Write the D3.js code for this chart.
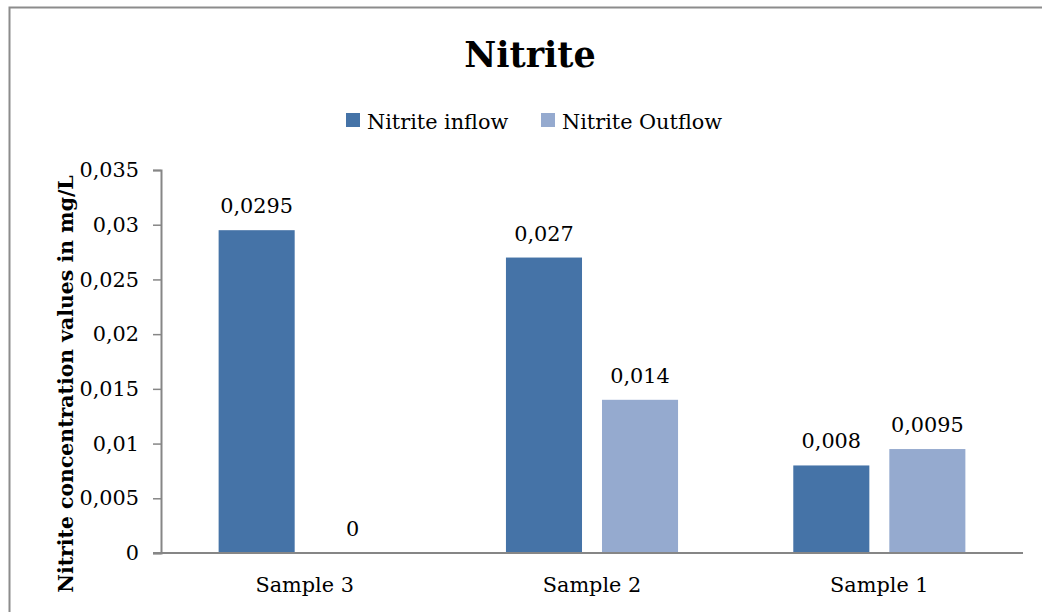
<!DOCTYPE html>
<html>
<head>
<meta charset="utf-8">
<script src="https://cdn.jsdelivr.net/npm/d3@7"></script>
<style>
  html, body { margin: 0; padding: 0; background: #fff; }
  svg { display: block; }
  text { font-family: "DejaVu Serif", "Liberation Serif", serif; fill: #000; }
</style>
</head>
<body>
<svg id="chart" width="1042" height="612"></svg>
<script>
// Chart data
const categories = ["Sample 3", "Sample 2", "Sample 1"];
const seriesNames = ["Nitrite inflow", "Nitrite Outflow"];
const inflow = [0.0295, 0.027, 0.008];
const outflow = [0, 0.014, 0.0095];
const inflowLabels = ["0,0295", "0,027", "0,008"];
const outflowLabels = ["0", "0,014", "0,0095"];
const yTicks = [0, 0.005, 0.01, 0.015, 0.02, 0.025, 0.03, 0.035];
const yTickLabels = ["0", "0,005", "0,01", "0,015", "0,02", "0,025", "0,03", "0,035"];
const colors = ["#4573A7", "#95AACF"];

const fontSize = "20.8px";
const svg = d3.select("#chart");

// Outer chart frame
svg.append("rect")
  .attr("x", 9.5).attr("y", 7.5)
  .attr("width", 1100).attr("height", 700)
  .attr("fill", "none").attr("stroke", "#8c8c8c").attr("stroke-width", 2);

const plot = { left: 161, right: 1023, top: 170, bottom: 553 };

const x0 = d3.scaleBand().domain(categories).range([plot.left, plot.right]).padding(0);
const x1 = d3.scaleBand().domain(seriesNames).range([0, x0.bandwidth()])
  .paddingInner(0.208).paddingOuter(0.6);
const y = d3.scaleLinear().domain([0, 0.035]).range([plot.bottom, plot.top]);

// Title
svg.append("text")
  .attr("x", 530).attr("y", 67)
  .attr("text-anchor", "middle")
  .style("font-size", "35px").style("font-weight", "bold")
  .text("Nitrite");

// Legend
const legend = svg.append("g");
const legendItems = [
  { name: seriesNames[0], color: colors[0], x: 346 },
  { name: seriesNames[1], color: colors[1], x: 541 }
];
legendItems.forEach(d => {
  legend.append("rect").attr("x", d.x).attr("y", 113).attr("width", 14).attr("height", 14).attr("fill", d.color);
  legend.append("text").attr("x", d.x + 21).attr("y", 129).style("font-size", fontSize).text(d.name);
});

// Y axis
const yAxis = d3.axisLeft(y).tickValues(yTicks)
  .tickFormat((d, i) => yTickLabels[i]).tickSize(8).tickPadding(14);
const yg = svg.append("g").attr("transform", `translate(${plot.left},0)`).call(yAxis);
yg.select(".domain").attr("stroke", "#868686").attr("stroke-width", 2);
yg.selectAll(".tick line").attr("stroke", "#868686").attr("stroke-width", 1.5);
yg.selectAll(".tick text").style("font-size", fontSize).attr("fill", "#000")
  .style("font-family", "DejaVu Serif, serif");

// Bars
const groups = svg.append("g").selectAll("g")
  .data(categories).join("g")
  .attr("transform", d => `translate(${x0(d)},0)`);

const rows = categories.map((c, i) => [
  { s: seriesNames[0], v: inflow[i], label: inflowLabels[i], color: colors[0] },
  { s: seriesNames[1], v: outflow[i], label: outflowLabels[i], color: colors[1] }
]);

groups.each(function (c, i) {
  const g = d3.select(this);
  g.selectAll("rect").data(rows[i]).join("rect")
    .attr("x", d => x1(d.s)).attr("width", x1.bandwidth())
    .attr("y", d => y(d.v)).attr("height", d => y(0) - y(d.v))
    .attr("fill", d => d.color);
  g.selectAll("text.val").data(rows[i]).join("text").attr("class", "val")
    .attr("x", d => x1(d.s) + x1.bandwidth() / 2)
    .attr("y", d => y(d.v) - 17)
    .attr("text-anchor", "middle").style("font-size", fontSize)
    .text(d => d.label);
});

// X axis (baseline and category labels)
svg.append("line")
  .attr("x1", plot.left - 8).attr("x2", plot.right)
  .attr("y1", plot.bottom).attr("y2", plot.bottom)
  .attr("stroke", "#868686").attr("stroke-width", 2);
svg.append("g").selectAll("text").data(categories).join("text")
  .attr("x", d => x0(d) + x0.bandwidth() / 2).attr("y", 592)
  .attr("text-anchor", "middle").style("font-size", fontSize)
  .text(d => d);

// Y axis title
svg.append("text")
  .attr("transform", "translate(73,384) rotate(-90)")
  .attr("text-anchor", "middle")
  .style("font-size", "20.4px").style("font-weight", "bold")
  .text("Nitrite concentration values in mg/L");
</script>
</body>
</html>
